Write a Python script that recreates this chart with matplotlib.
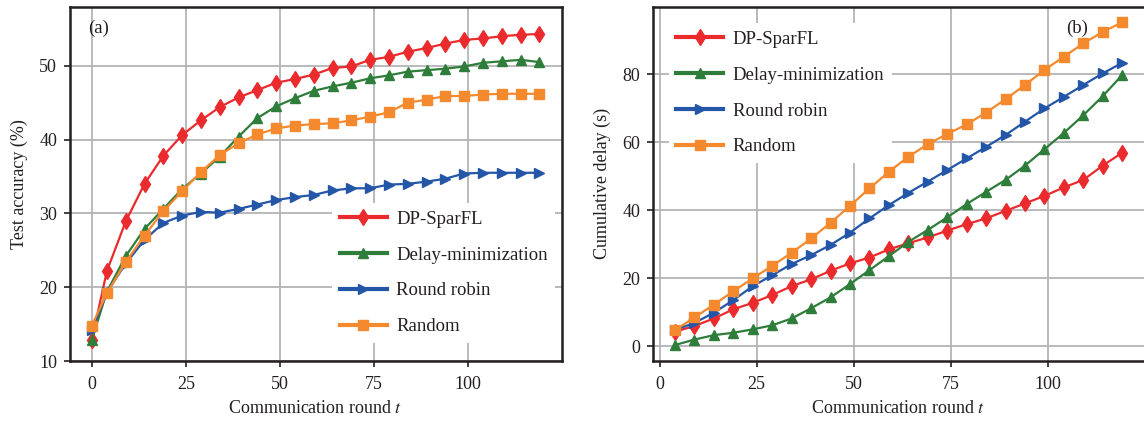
import matplotlib
matplotlib.use("Agg")
import matplotlib.pyplot as plt

plt.rcParams['font.family'] = ['Liberation Serif', 'DejaVu Serif']
plt.rcParams['mathtext.fontset'] = 'stix'

# ---------------- data ----------------
rounds_acc = [0] + list(range(4, 120, 5))
rounds_delay = list(range(4, 120, 5))

acc_dpsparfl = [12.9, 22.2, 28.9, 34.0, 37.8, 40.6, 42.6, 44.4, 45.7, 46.7, 47.7, 48.2, 48.8,
                49.7, 49.9, 50.8, 51.2, 51.9, 52.4, 53.0, 53.5, 53.7, 54.0, 54.2, 54.3]
acc_delaymin = [12.9, 19.4, 24.2, 27.9, 30.6, 33.3, 35.4, 37.7, 40.4, 42.9, 44.5, 45.6, 46.6,
                47.2, 47.7, 48.3, 48.7, 49.2, 49.4, 49.6, 49.9, 50.4, 50.6, 50.8, 50.5]
acc_roundrobin = [14.2, 19.3, 23.2, 26.4, 28.7, 29.7, 30.2, 30.1, 30.6, 31.2, 31.8, 32.2, 32.5,
                  33.1, 33.4, 33.4, 33.9, 34.0, 34.3, 34.7, 35.4, 35.5, 35.5, 35.5, 35.5]
acc_random = [14.8, 19.2, 23.4, 27.0, 30.3, 33.0, 35.6, 37.9, 39.5, 40.7, 41.5, 41.9, 42.1,
              42.2, 42.6, 43.1, 43.7, 45.0, 45.4, 45.9, 45.9, 46.1, 46.2, 46.2, 46.2]

delay_dpsparfl = [4.3, 6.0, 8.2, 10.9, 12.8, 15.1, 17.7, 19.7, 22.2, 24.4, 26.1, 28.5, 30.3,
                  32.0, 34.0, 35.9, 37.6, 39.8, 42.0, 44.2, 46.7, 48.9, 53.1, 56.9]
delay_delaymin = [0.4, 2.0, 3.3, 4.0, 5.0, 6.2, 8.2, 11.2, 14.4, 18.3, 22.4, 26.5, 30.7,
                  34.2, 37.9, 41.8, 45.4, 48.9, 53.1, 57.9, 62.7, 67.9, 73.5, 79.7]
delay_roundrobin = [4.8, 6.9, 9.9, 13.6, 17.7, 20.9, 24.2, 26.8, 29.8, 33.4, 37.6, 41.5, 45.1,
                    48.4, 51.8, 55.2, 58.6, 62.1, 66.0, 69.9, 73.3, 76.8, 80.2, 83.3]
delay_random = [4.8, 8.5, 12.3, 16.2, 20.0, 23.7, 27.5, 31.7, 36.3, 41.3, 46.4, 51.3, 55.7,
                59.4, 62.4, 65.2, 68.7, 72.6, 76.8, 81.2, 85.1, 89.0, 92.4, 95.2]

labels = ['DP-SparFL', 'Delay-minimization', 'Round robin', 'Random']
xticks = [0, 25, 50, 75, 100]
acc_yticks = [10, 20, 30, 40, 50]
delay_yticks = [0, 20, 40, 60, 80]

# ---------------- style ----------------
colors = ['#ea2a2c', '#2e7d3a', '#2456a8', '#f4892e']
markers = ['d', '^', '>', 's']
msizes = [8, 7.5, 7.5, 7]
TXT = '#231f20'

fig = plt.figure(figsize=(11.44, 4.23), dpi=100)
W, H = 1144, 423
ax1 = fig.add_axes([69.5 / W, 1 - 361 / H, (561.7 - 69.5) / W, (361 - 6.7) / H])
ax2 = fig.add_axes([652.7 / W, 1 - 361 / H, (1144.5 - 652.7) / W, (361 - 6.7) / H])

def style(ax):
    ax.grid(True, color='#b4b4b8', linewidth=1.3)
    ax.set_axisbelow(True)
    for s in ax.spines.values():
        s.set_linewidth(1.8)
        s.set_color(TXT)
    ax.tick_params(direction='out', length=4, width=1.2, color=TXT,
                   labelsize=13, labelcolor=TXT, pad=5)
    ax.tick_params(axis='x', pad=7)

acc_series = [acc_dpsparfl, acc_delaymin, acc_roundrobin, acc_random]
for ys, c, m, ms, lab in zip(acc_series, colors, markers, msizes, labels):
    ax1.plot(rounds_acc, ys, color=c, marker=m, markersize=ms, linewidth=1.6, label=lab)

delay_series = [delay_dpsparfl, delay_delaymin, delay_roundrobin, delay_random]
for ys, c, m, ms, lab in zip(delay_series, colors, markers, msizes, labels):
    ax2.plot(rounds_delay, ys, color=c, marker=m, markersize=ms, linewidth=1.6, label=lab)

style(ax1)
style(ax2)

ax1.set_xlim(-5.95, 124.95)
ax1.set_ylim(10, 58)
ax1.set_xticks(xticks)
ax1.set_yticks(acc_yticks)
ax2.set_xlim(-1.75, 124.75)
ax2.set_ylim(-4.3, 99.8)
ax2.set_xticks(xticks)
ax2.set_yticks(delay_yticks)

ax1.set_xlabel('Communication round $t$', fontsize=13, color=TXT, labelpad=5)
ax2.set_xlabel('Communication round $t$', fontsize=13, color=TXT, labelpad=5)
ax1.set_ylabel('Test accuracy (%)', fontsize=13, color=TXT, labelpad=8)
ax2.set_ylabel('Cumulative delay (s)', fontsize=13, color=TXT, labelpad=8)

ax1.text(0.038, 0.94, '(a)', transform=ax1.transAxes, fontsize=13.5, color=TXT,
         ha='left', va='center')
ax2.text(0.84, 0.94, '(b)', transform=ax2.transAxes, fontsize=13.5, color=TXT,
         ha='left', va='center')

leg_kw = dict(fontsize=13.5, frameon=True, fancybox=False, framealpha=1.0, facecolor='white',
              edgecolor='none', handlelength=2.5, labelspacing=1.0, borderpad=0.4,
              handletextpad=0.5, labelcolor=TXT)
l1 = ax1.legend(loc='lower right', bbox_to_anchor=(1.006, 0.025), **leg_kw)
l2 = ax2.legend(loc='upper left', bbox_to_anchor=(0.014, 0.98), **leg_kw)
for lg in (l1, l2):
    for h in lg.legend_handles:
        h.set_linewidth(3.0)

fig.savefig('out.png', dpi=100)
